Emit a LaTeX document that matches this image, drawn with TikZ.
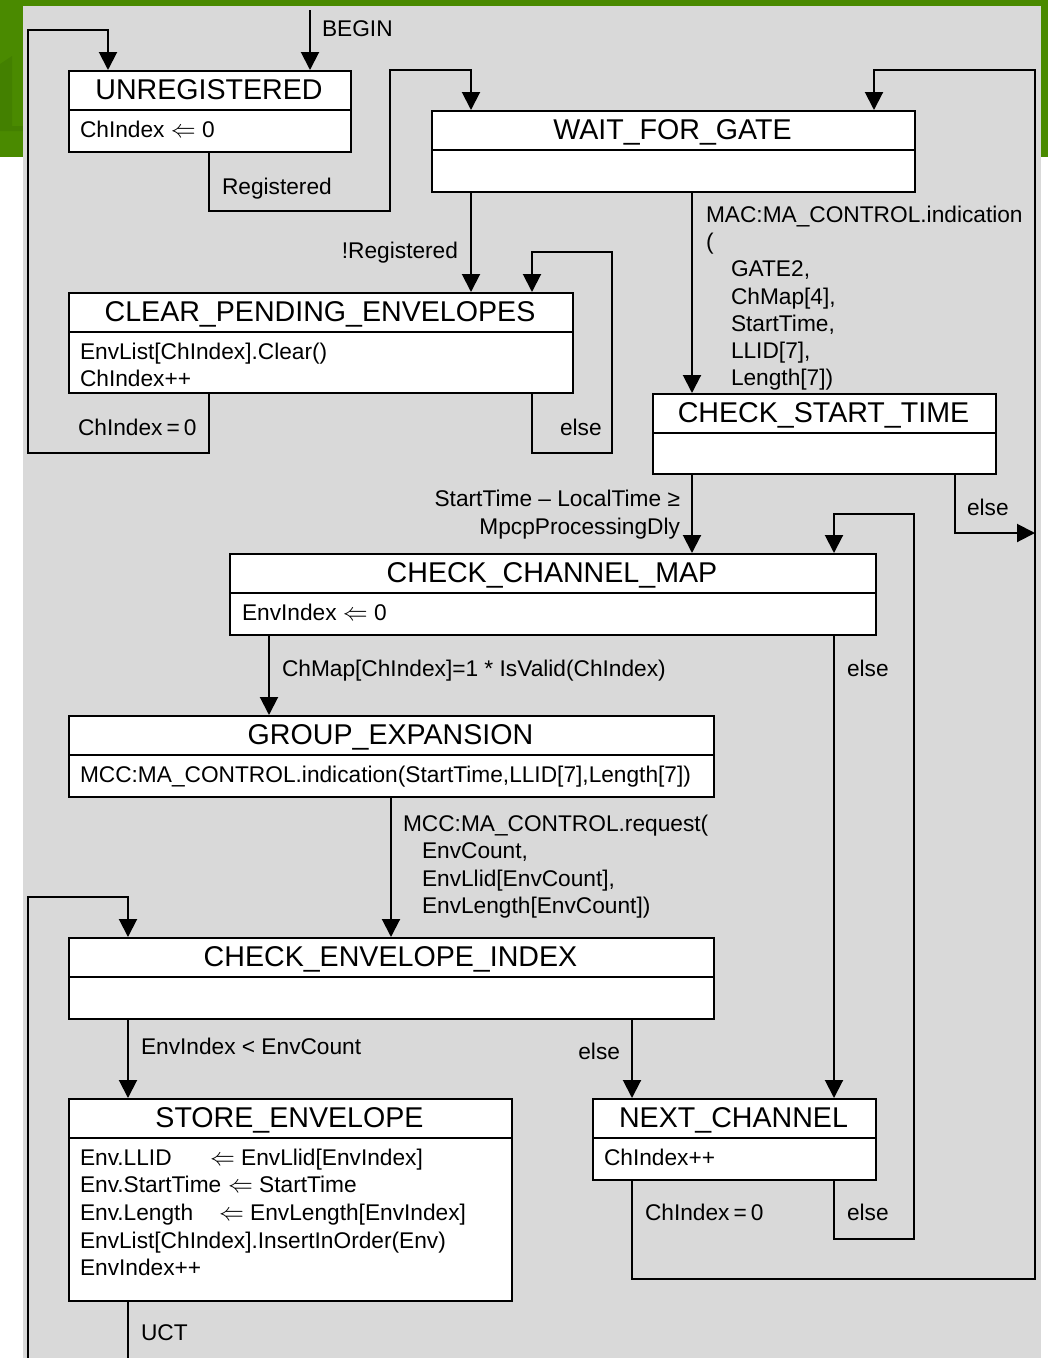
\documentclass[tikz,border=0pt]{standalone}
\usepackage{fontspec}
\setmainfont{Liberation Sans}
\usetikzlibrary{arrows.meta}
\definecolor{bggray}{HTML}{D9D9D9}
\definecolor{slidegreen}{HTML}{4A8A00}
\definecolor{slidegreendark}{HTML}{438000}
\newcommand{\lar}{{\fontsize{27}{27}\selectfont$\Leftarrow$}}
\newcommand{\chzero}{ChIndex\hspace{4pt}=\hspace{4pt}0}
\begin{document}
\begin{tikzpicture}[x=1pt,y=-1pt,line width=2pt,
  arr/.style={-{Triangle[length=18pt,width=18pt]},line width=2pt},
  statebox/.style={draw,fill=white,line width=2pt,inner sep=0pt,anchor=north west},
  divider/.style={line width=2pt},
  stitle/.style={font=\fontsize{28.6}{32}\selectfont,anchor=base,inner sep=0pt},
  lbl/.style={font=\fontsize{22.7}{27.5}\selectfont,anchor=base west,inner sep=0pt},
  lblr/.style={font=\fontsize{22.7}{27.5}\selectfont,anchor=base east,inner sep=0pt}]
\useasboundingbox (0,0) rectangle (1048,1358);
% background
\fill[white] (0,0) rectangle (1048,1358);
\fill[slidegreen] (0,0) rectangle (1048,157);
\fill[slidegreendark] (0,64) -- (12,56) -- (12,126) -- (23,126) -- (23,131) -- (0,131) -- cycle;
\fill[bggray] (23,6) rectangle (1041,1358);

% states
\node[statebox,minimum width=282pt,minimum height=81pt] (unreg) at (68,70) {};
\draw[divider] (unreg.west |- 0,110) -- (unreg.east |- 0,110);
\node[stitle] (unregT) at (209,99) {UNREGISTERED};
\node[lbl] (unregB) at (79,137) {ChIndex \lar\ 0};

\node[statebox,minimum width=483pt,minimum height=81pt] (wfg) at (431,110) {};
\draw[divider] (wfg.west |- 0,150) -- (wfg.east |- 0,150);
\node[stitle] (wfgT) at (672.5,139) {WAIT\_FOR\_GATE};

\node[statebox,minimum width=504pt,minimum height=100pt] (cpe) at (68,292) {};
\draw[divider] (cpe.west |- 0,332) -- (cpe.east |- 0,332);
\node[stitle] (cpeT) at (320,321) {CLEAR\_PENDING\_ENVELOPES};
\node[lbl] (cpeB1) at (79,359) {EnvList[ChIndex].Clear()};
\node[lbl] (cpeB2) at (79,386) {ChIndex++};

\node[statebox,minimum width=343pt,minimum height=80pt] (cst) at (652,393) {};
\draw[divider] (cst.west |- 0,433) -- (cst.east |- 0,433);
\node[stitle] (cstT) at (823.5,422) {CHECK\_START\_TIME};

\node[statebox,minimum width=646pt,minimum height=81pt] (ccm) at (229,553) {};
\draw[divider] (ccm.west |- 0,593) -- (ccm.east |- 0,593);
\node[stitle] (ccmT) at (552,582) {CHECK\_CHANNEL\_MAP};
\node[lbl] (ccmB) at (241,620) {EnvIndex \lar\ 0};

\node[statebox,minimum width=645pt,minimum height=81pt] (ge) at (68,715) {};
\draw[divider] (ge.west |- 0,755) -- (ge.east |- 0,755);
\node[stitle] (geT) at (390.5,744) {GROUP\_EXPANSION};
\node[lbl] (geB) at (79,782) {MCC:MA\_CONTROL.indication(StartTime,LLID[7],Length[7])};

\node[statebox,minimum width=645pt,minimum height=81pt] (cei) at (68,937) {};
\draw[divider] (cei.west |- 0,977) -- (cei.east |- 0,977);
\node[stitle] (ceiT) at (390.5,966) {CHECK\_ENVELOPE\_INDEX};

\node[statebox,minimum width=443pt,minimum height=202pt] (se) at (68,1098) {};
\draw[divider] (se.west |- 0,1138) -- (se.east |- 0,1138);
\node[stitle] (seT) at (289.5,1127) {STORE\_ENVELOPE};
\node[lbl] (seB1) at (79,1165) {\makebox[130pt][l]{Env.LLID}\lar\ EnvLlid[EnvIndex]};
\node[lbl] (seB2) at (79,1192.5) {\makebox[148pt][l]{Env.StartTime}\lar\ StartTime};
\node[lbl] (seB3) at (79,1220.5) {\makebox[139pt][l]{Env.Length}\lar\ EnvLength[EnvIndex]};
\node[lbl] (seB4) at (79,1248.5) {EnvList[ChIndex].InsertInOrder(Env)};
\node[lbl] (seB5) at (79,1275.5) {EnvIndex++};

\node[statebox,minimum width=283pt,minimum height=81pt] (nc) at (592,1098) {};
\draw[divider] (nc.west |- 0,1138) -- (nc.east |- 0,1138);
\node[stitle] (ncT) at (733.5,1127) {NEXT\_CHANNEL};
\node[lbl] (ncB) at (603,1165) {ChIndex++};

% connectors
\coordinate (bgn) at (310,10);
\draw[arr] (bgn) -- (bgn |- unreg.north);
\node[lbl] (lbgn) at (321,36.5) {BEGIN};

\draw[arr] (unreg.south -| 209,0) -- (209,211) -- (390,211) -- (390,70) -- (471,70) -- (wfg.north -| 471,0);
\node[lbl] (lreg) at (221,194) {Registered};

\draw[arr] (wfg.south -| 471,0) -- (cpe.north -| 471,0);
\node[lblr] (lnreg) at (459,258.5) {!Registered};

\draw[arr] (cpe.south -| 209,0) -- (209,453) -- (28,453) -- (28,30) -- (108,30) -- (unreg.north -| 108,0);
\node[lbl] (lcpe0) at (77,435.5) {\chzero};

\draw[arr] (cpe.south -| 532,0) -- (532,453) -- (612,453) -- (612,252) -- (532,252) -- (cpe.north -| 532,0);
\node[lbl] (lcpeelse) at (559,435.5) {else};

\draw[arr] (wfg.south -| 692,0) -- (cst.north -| 692,0);
\node[lbl] (lmac1) at (705,222.5) {MAC:MA\_CONTROL.indication};
\node[lbl] (lmac2) at (705,249.7) {(};
\node[lbl] (lmac3) at (730,276.9) {GATE2,};
\node[lbl] (lmac4) at (730,304.1) {ChMap[4],};
\node[lbl] (lmac5) at (730,331.3) {StartTime,};
\node[lbl] (lmac6) at (730,358.5) {LLID[7],};
\node[lbl] (lmac7) at (730,385.7) {Length[7])};

\draw[arr] (cst.south -| 692,0) -- (ccm.north -| 692,0);
\node[lblr] (lstart1) at (681,506.5) {StartTime – LocalTime ≥};
\node[lblr] (lstart2) at (681,534) {MpcpProcessingDly};

\coordinate (rightbus) at (1035,533);
\draw[arr] (cst.south -| 955,0) -- (955,533) -- (rightbus);
\node[lbl] (lcstelse) at (966,515.5) {else};

\draw[arr] (ccm.south -| 269,0) -- (ge.north -| 269,0);
\node[lbl] (lchmap) at (281,676.5) {ChMap[ChIndex]=1 * IsValid(ChIndex)};

\draw[arr] (ccm.south -| 834,0) -- (nc.north -| 834,0);
\node[lbl] (lccmelse) at (846,676.5) {else};

\draw[arr] (ge.south -| 391,0) -- (cei.north -| 391,0);
\node[lbl] (lmcc1) at (402,831) {MCC:MA\_CONTROL.request(};
\node[lbl] (lmcc2) at (421,858.5) {EnvCount,};
\node[lbl] (lmcc3) at (421,886) {EnvLlid[EnvCount],};
\node[lbl] (lmcc4) at (421,913) {EnvLength[EnvCount])};

\draw[arr] (cei.south -| 128,0) -- (se.north -| 128,0);
\node[lbl] (lenvidx) at (140,1054.5) {EnvIndex < EnvCount};

\draw[arr] (cei.south -| 632,0) -- (nc.north -| 632,0);
\node[lblr] (lceielse) at (621,1059.5) {else};

\coordinate (uctend) at (128,1358);
\draw (se.south -| 128,0) -- (uctend);
\node[lbl] (luct) at (140,1340.5) {UCT};
\coordinate (loopstart) at (28,1358);
\draw[arr] (loopstart) -- (28,897) -- (128,897) -- (cei.north -| 128,0);

\draw[arr] (nc.south -| 834,0) -- (834,1239) -- (914,1239) -- (914,514) -- (834,514) -- (ccm.north -| 834,0);
\node[lbl] (lncelse) at (846,1220.5) {else};

\draw[arr] (nc.south -| 632,0) -- (632,1279) -- (1035,1279) -- (1035,70) -- (874,70) -- (wfg.north -| 874,0);
\node[lbl] (lnc0) at (644,1220.5) {\chzero};
\end{tikzpicture}
\end{document}
